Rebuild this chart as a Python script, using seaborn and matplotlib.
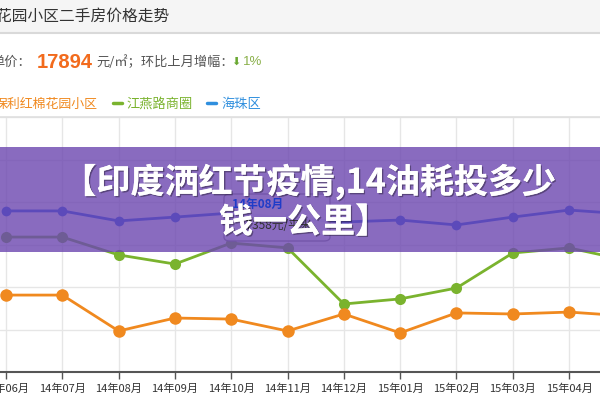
import pandas as pd
import matplotlib
matplotlib.use("Agg")
import matplotlib.pyplot as plt
import matplotlib.patheffects as pe
from matplotlib.patches import Rectangle, FancyBboxPatch
from matplotlib.lines import Line2D
import seaborn as sns

# 数据（单位：元/㎡）
months = ["14年06月", "14年07月", "14年08月", "14年09月", "14年10月", "14年11月",
          "14年12月", "15年01月", "15年02月", "15年03月", "15年04月", "15年05月"]
haizhu = [17580, 17580, 17110, 17290, 17480, 17250, 17060, 17150, 16920, 17290, 17620, 17440]
jiangyan = [16350, 16350, 15510, 15080, 16070, 15840, 13200, 13440, 13950, 15600, 15840, 15270]
baoli = [13620, 13620, 11930, 12540, 12490, 11930, 12730, 11840, 12780, 12730, 12820, 12640]
yticks = [10000, 12000, 14000, 16000, 18000, 20000, 22000]

c_orange = "#f0891f"
c_green = "#7ab32e"
c_blue = "#2f8fde"
c_blue_line = "#1f5ae6"

sns.set_theme(style="white")
plt.rcParams["font.family"] = ["Noto Sans CJK SC", "DejaVu Sans"]

W, H = 600, 400


def fx(x):
    return x / W


def fy(y):
    return 1 - y / H


fig = plt.figure(figsize=(6, 4), dpi=100)
fig.patch.set_facecolor("white")

# 顶部标题栏
fig.add_artist(Rectangle((0, fy(33)), 1, 33 / H, transform=fig.transFigure,
                         facecolor="#f5f5f5", edgecolor="none", zorder=0))
fig.add_artist(Line2D([0, 1], [fy(33), fy(33)], transform=fig.transFigure,
                      color="#d9d9d9", lw=1.5))
fig.text(fx(170), fy(16), "保利红棉花园小区二手房价格走势", ha="right", va="center",
         fontsize=11.3, color="#333333")

# 单价行
fig.text(fx(31), fy(62), "单价：", ha="right", va="center", fontsize=9.5, color="#555555")
fig.text(fx(37), fy(63), "17894", ha="left", va="center", fontsize=14.5,
         fontweight="bold", color="#f26b1d", family=["Liberation Sans"])
fig.text(fx(96), fy(62), "元/㎡；环比上月增幅：", ha="left", va="center",
         fontsize=9.5, color="#555555")
fig.text(fx(231), fy(62), "⬇", ha="left", va="center", fontsize=8,
         color="#6aa832", family=["DejaVu Sans"])
fig.text(fx(243), fy(62), "1%", ha="left", va="center", fontsize=9.5,
         color="#8ab04a", family=["Liberation Sans"])

# 图例行
fig.text(fx(98), fy(104), "保利红棉花园小区", ha="right", va="center",
         fontsize=9.3, color=c_orange)
fig.add_artist(Line2D([fx(113), fx(122)], [fy(103), fy(103)], transform=fig.transFigure,
                      color=c_green, lw=2.5))
fig.text(fx(126), fy(104), "江燕路商圈", ha="left", va="center", fontsize=9.5, color=c_green)
fig.add_artist(Line2D([fx(207), fx(216)], [fy(103), fy(103)], transform=fig.transFigure,
                      color=c_blue, lw=2.5))
fig.text(fx(221), fy(104), "海珠区", ha="left", va="center", fontsize=9.5, color=c_blue)

# 折线图
ax = fig.add_axes([0, fy(372), 1, (372 - 117) / H])
df = pd.DataFrame({"月份": months, "海珠区": haizhu, "江燕路商圈": jiangyan,
                   "保利红棉花园小区": baoli})
sns.lineplot(data=df, x="月份", y="海珠区", color=c_blue_line, marker="o", markersize=7,
             markeredgewidth=0, lw=2, ax=ax, sort=False)
sns.lineplot(data=df, x="月份", y="江燕路商圈", color=c_green, marker="o", markersize=8,
             markeredgewidth=0, lw=2, ax=ax, sort=False)
sns.lineplot(data=df, x="月份", y="保利红棉花园小区", color=c_orange, marker="o",
             markersize=9, markeredgewidth=0, lw=2, ax=ax, sort=False)

ax.set_xlim(-0.107, 10.55)
ax.set_ylim(yticks[0], yticks[-1])
ax.set_yticks(yticks)
ax.set_yticklabels([])
ax.set_xlabel("")
ax.set_ylabel("")
ax.grid(True, color="#e6e6e6", lw=1)
ax.set_axisbelow(True)
for s in ["left", "right"]:
    ax.spines[s].set_visible(False)
ax.spines["top"].set_color("#e0e0e0")
ax.spines["bottom"].set_color("#555555")
ax.spines["bottom"].set_linewidth(1.5)
ax.tick_params(axis="x", length=5, width=1, color="#555555", labelsize=8,
               labelcolor="#333333", pad=3, bottom=True)
ax.tick_params(axis="y", length=0)

# 提示框
fig.add_artist(FancyBboxPatch((fx(224), fy(241)), 106 / W, 47 / H,
                              boxstyle="round,pad=0,rounding_size=0.01",
                              transform=fig.transFigure, facecolor="white",
                              edgecolor="#888888", lw=1, alpha=0.9))
fig.text(fx(232), fy(204), "14年08月", ha="left", va="center", fontsize=8.5,
         fontweight="bold", color="#1f3cc8")
fig.text(fx(240), fy(226), "17358元/平米", ha="left", va="center", fontsize=8.5,
         color="#333333")

# 紫色横幅
fig.add_artist(Rectangle((0, fy(252)), 1, (252 - 147) / H, transform=fig.transFigure,
                         facecolor="#6c46b0", edgecolor="none", alpha=0.8))
shadow = [pe.withSimplePatchShadow(offset=(1, -1), alpha=0.35, shadow_rgbFace="black"),
          pe.Normal()]
fig.text(fx(309), fy(182), "【印度洒红节疫情,14油耗投多少", ha="center", va="center",
         fontsize=24.5, fontweight="bold", color="white", path_effects=shadow)
fig.text(fx(304), fy(222), "钱一公里】", ha="center", va="center",
         fontsize=24.5, fontweight="bold", color="white", path_effects=shadow)

fig.savefig("out.png", dpi=100)
